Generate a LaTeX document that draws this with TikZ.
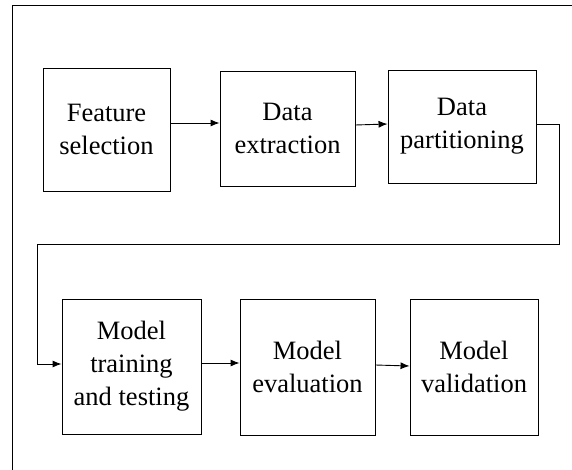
\documentclass[tikz,border=0pt]{standalone}
\usepackage{fontspec}
\setmainfont{Liberation Serif}
\newfontfamily\boxfont{Liberation Serif}
\usetikzlibrary{arrows.meta}
\begin{document}
\begin{tikzpicture}[x=1pt,y=1pt,
  stagebox/.style={draw=black, line width=0.9pt, inner sep=0pt, align=center,
    font=\boxfont\fontsize{26.5}{33}\selectfont},
  arr/.style={line width=0.9pt, -{Latex[length=9pt,width=7pt]}},
  frameline/.style={line width=1pt}]
\useasboundingbox (0,0) rectangle (572,-470);
% outer frame
\draw[frameline] (572,-6) -- (12,-6) -- (12,-470);
% first row
\node[stagebox, minimum width=127pt, minimum height=123pt] (b1) at (106.5,-129.5) {Feature\\selection};
\node[stagebox, minimum width=135pt, minimum height=115pt] (b2) at (287.5,-128.5) {Data\\extraction};
\node[stagebox, minimum width=148pt, minimum height=113pt] (b3) at (462,-126.5) {Data\\partitioning};
% second row
\node[stagebox, minimum width=139pt, minimum height=135pt] (b4) at (131.5,-366.5) {Model\\training\\and testing};
\node[stagebox, minimum width=135pt, minimum height=136pt] (b5) at (307.5,-367) {Model\\evaluation};
\node[stagebox, minimum width=128pt, minimum height=136pt] (b6) at (474,-367) {Model\\validation};
% connectors
\draw[arr] (b1.east |- 0,-123) -- (b2.west |- 0,-123);
\draw[arr] (b2.east |- 0,-125) -- (b3.west |- 0,-124);
\coordinate (t1) at (559,-124);
\coordinate (t2) at (559,-244);
\coordinate (t3) at (37,-244);
\coordinate (t4) at (37,-364);
\draw[arr] (b3.east |- t1) -- (t1) -- (t2) -- (t3) -- (t4) -- (b4.west |- t4);
\draw[arr] (b4.east |- 0,-363) -- (b5.west |- 0,-363);
\draw[arr] (b5.east |- 0,-365) -- (b6.west |- 0,-366);
\end{tikzpicture}
\end{document}
